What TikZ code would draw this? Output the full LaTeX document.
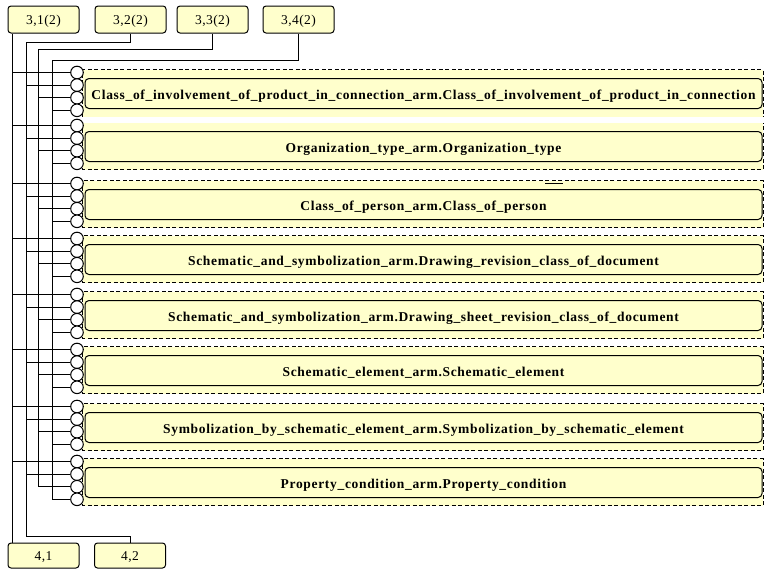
\documentclass[tikz,border=0pt]{standalone}
\usepackage{fontspec}
\newfontfamily\boxfnt[LetterSpace=5]{Liberation Serif}
\newfontfamily\lblfnt[LetterSpace=3]{Liberation Serif}
\definecolor{boxyellow}{RGB}{255,255,204}
\tikzset{
  lblbox/.style={draw, line width=1pt, rounded corners=3pt, fill=boxyellow, minimum width=71pt, minimum height=27pt, inner sep=0pt, text height=10.5pt, text depth=0pt, font=\lblfnt\fontsize{13.5}{15}\selectfont},
  outerbox/.style={fill=boxyellow, draw=none, minimum width=680pt, minimum height=46.5pt, inner sep=0pt},
  innerbox/.style={draw, line width=1pt, rounded corners=4pt, fill=boxyellow, minimum width=677pt, minimum height=30pt, inner sep=0pt, text height=11.5pt, text depth=0pt, font=\boxfnt\bfseries\fontsize{13.5}{15}\selectfont},
  dashline/.style={line width=1pt, dash pattern=on 4pt off 2.5pt},
  conn/.style={line width=1pt},
  port/.style={circle, draw, line width=1pt, fill=white, minimum size=12.6pt, inner sep=0pt}
}
\begin{document}
\begin{tikzpicture}[x=1pt,y=-1pt]
\useasboundingbox (0,0) rectangle (768,576);
% top and bottom labels
\node[lblbox] (t1) at (43.5,19.5) {3,1(2)};
\node[lblbox] (t2) at (130.5,19.5) {3,2(2)};
\node[lblbox] (t3) at (212.5,19.5) {3,3(2)};
\node[lblbox] (t4) at (298.5,19.5) {3,4(2)};
\node[lblbox, minimum height=25pt] (b1) at (43.5,555.5) {4,1};
\node[lblbox, minimum height=25pt] (b2) at (130,555.5) {4,2};
% groups
\foreach \c/\txt [count=\k] in {
  94/{Class\_of\_involvement\_of\_product\_in\_connection\_arm.Class\_of\_involvement\_of\_product\_in\_connection},
  147/{Organization\_type\_arm.Organization\_type},
  205/{Class\_of\_person\_arm.Class\_of\_person},
  260/{Schematic\_and\_symbolization\_arm.Drawing\_revision\_class\_of\_document},
  316/{Schematic\_and\_symbolization\_arm.Drawing\_sheet\_revision\_class\_of\_document},
  371/{Schematic\_element\_arm.Schematic\_element},
  428/{Symbolization\_by\_schematic\_element\_arm.Symbolization\_by\_schematic\_element},
  483/{Property\_condition\_arm.Property\_condition}} {
  \node[outerbox] (d\k) at (423,\c-0.75) {};
  \ifnum\k=1
    \draw[dashline] (d\k.south west) -- (d\k.north west) -- (d\k.north east) -- (d\k.south east);
  \else\ifnum\k=2
    \draw[dashline] (d\k.north west) -- (d\k.south west) -- (d\k.south east) -- (d\k.north east);
  \else
    \draw[dashline] (d\k.north west) rectangle (d\k.south east);
  \fi\fi
  \node[innerbox] (g\k) at (423.5,\c-0.5) {\txt};
}
% stray mark
\coordinate (m1) at (545,183.5);
\coordinate (m2) at (563,183.5);
\draw[conn] (m1) -- (m2);
% bus lines
\draw[conn] ([xshift=5pt]t1.south west) -- ([xshift=5pt]b1.north west);
\draw[conn] (t2.south) |- (26,42) -- (26,536) -| (b2.north);
\draw[conn] (t3.south) |- (38,49) -- (38,486.8);
\draw[conn] (t4.south) |- (52,60) -- (52,499.3);
% ports
\foreach \c [count=\k] in {94,147,205,260,316,371,428,483} {
  \foreach \o/\vx [count=\i] in {-21.5/13,-8.9/26,3.7/38,16.3/52} {
    \node[port] (c\k\i) at (77,\c+\o) {};
    \draw[conn] (\vx,\c+\o) -- (c\k\i.west);
  }
}
\end{tikzpicture}
\end{document}
